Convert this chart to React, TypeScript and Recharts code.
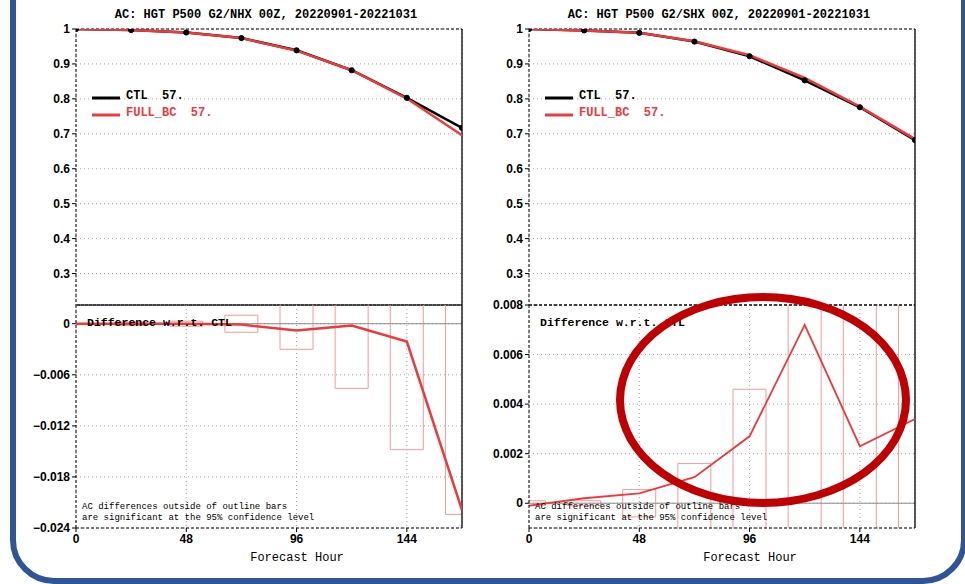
import {
  Bar,
  CartesianGrid,
  ComposedChart,
  Legend,
  Line,
  ReferenceLine,
  XAxis,
  YAxis,
} from "recharts";

// forecast hours and values
const HOURS = [0, 24, 48, 72, 96, 120, 144, 168];

const NHX_CTL = [1.0, 0.997, 0.99, 0.974, 0.939, 0.882, 0.803, 0.717];
const NHX_FULL = [1.0, 0.997, 0.99, 0.974, 0.938, 0.882, 0.801, 0.696];
const NHX_DIFF = [0, 0, 0, -0.0001, -0.0008, -0.0002, -0.0021, -0.0219];
const NHX_CI = [0, 0.0002, 0.0003, 0.001, 0.003, 0.0076, 0.0148, 0.0224];

const SHX_CTL = [1.0, 0.996, 0.989, 0.964, 0.922, 0.853, 0.776, 0.682];
const SHX_FULL = [1.0, 0.996, 0.989, 0.965, 0.925, 0.86, 0.778, 0.685];
const SHX_DIFF = [-0.0001, 0.0002, 0.0004, 0.00105, 0.0027, 0.0072, 0.0023, 0.0034];
const SHX_CI = [0.0001, 0.0001, 0.00055, 0.0016, 0.0046, 0.011, 0.011, 0.012];

const AC_TICKS = [0.3, 0.4, 0.5, 0.6, 0.7, 0.8, 0.9, 1];
const NHX_DIFF_TICKS = [-0.024, -0.018, -0.012, -0.006, 0];
const SHX_DIFF_TICKS = [0, 0.002, 0.004, 0.006, 0.008];
const HOUR_TICKS = [0, 48, 96, 144];

const RED = "#ee3a3a";
const BAR_RED = "#f29a9a";
const GRID = "#a6a6a6";
const MONO = "'Liberation Mono', 'Courier New', monospace";
const SANS = "'Liberation Sans', Arial, sans-serif";

const tickStyle = { fontSize: 12, fontWeight: 700, fill: "#000", fontFamily: SANS };
const dashedAxis = { stroke: "#000", strokeDasharray: "3 2" };

const fmtAc = (v: number) => (v === 1 ? "1" : v.toFixed(1));
const fmtDiff = (v: number) =>
  v === 0 ? "0" : (v < 0 ? "\u2212" : "") + Math.abs(v).toFixed(3);

const renderLegend = (props: any) => (
  <div style={{ fontFamily: MONO, fontWeight: 700, fontSize: 12, lineHeight: "17px" }}>
    {(props.payload || []).map((p: any) => (
      <div key={p.value} style={{ display: "flex", alignItems: "center", color: p.color }}>
        <svg width={28} height={17}>
          <line x1={0} x2={28} y1={10} y2={10} stroke={p.color} strokeWidth={3} />
        </svg>
        <span style={{ marginLeft: 6, whiteSpace: "pre" }}>{p.value}</span>
      </div>
    ))}
  </div>
);

type PanelProps = {
  x0: number;
  title: string;
  ctl: number[];
  full: number[];
  diff: number[];
  ci: number[];
  diffDomain: [number, number];
  diffTicks: number[];
  dashedSeparator: boolean;
  diffWidth: number;
};

function Panel(p: PanelProps) {
  const acData = HOURS.map((h, i) => ({ h, ctl: p.ctl[i], full: p.full[i] }));
  const diffData = HOURS.map((h, i) => ({ h, diff: p.diff[i], band: [-p.ci[i], p.ci[i]] }));
  const plotLeft = p.x0 + 76;
  const text = (left: number, top: number, s: string, extra: any) => (
    <div style={{ position: "absolute", left, top, whiteSpace: "pre", fontFamily: MONO, ...extra }}>{s}</div>
  );

  return (
    <>
      <div style={{ position: "absolute", left: p.x0, top: 0 }}>
        <ComposedChart width={470} height={306} data={acData} margin={{ top: 29, right: 8, bottom: 1, left: 0 }}>
          <CartesianGrid stroke={GRID} strokeDasharray="1 3" />
          <XAxis dataKey="h" type="number" domain={[0, 168]} ticks={HOUR_TICKS} allowDataOverflow height={0} tick={false} tickLine={false} axisLine={false} />
          <YAxis
            type="number"
            domain={[0.21, 1]}
            ticks={AC_TICKS}
            interval={0}
            allowDataOverflow
            width={76}
            tickFormatter={fmtAc}
            tick={tickStyle}
            tickSize={4}
            tickLine={{ stroke: "#000" }}
            axisLine={dashedAxis}
          />
          <ReferenceLine y={1} stroke="#000" strokeDasharray="3 2" />
          <ReferenceLine x={168} stroke="#000" strokeWidth={1.3} />
          <ReferenceLine
            y={0.21}
            stroke="#000"
            strokeWidth={p.dashedSeparator ? 1 : 1.6}
            strokeDasharray={p.dashedSeparator ? "3 2" : undefined}
          />
          <Line
            dataKey="ctl"
            name="CTL  57."
            stroke="#000"
            strokeWidth={2.5}
            dot={{ r: 2.6, fill: "#000", stroke: "#000", strokeWidth: 1 }}
            isAnimationActive={false}
          />
          <Line dataKey="full" name="FULL_BC  57." stroke={RED} strokeWidth={2.5} dot={false} isAnimationActive={false} />
          <Legend
            layout="vertical"
            align="center"
            verticalAlign="middle"
            content={renderLegend}
            wrapperStyle={{ left: 92, top: 88, width: "auto", height: "auto" }}
          />
        </ComposedChart>
      </div>

      <div style={{ position: "absolute", left: p.x0, top: 295 }}>
        <ComposedChart width={470} height={270} data={diffData} margin={{ top: 10, right: 8, bottom: 0, left: 0 }}>
          <CartesianGrid stroke={GRID} strokeDasharray="1 3" />
          <XAxis
            dataKey="h"
            type="number"
            domain={[0, 168]}
            ticks={HOUR_TICKS}
            interval={0}
            allowDataOverflow
            height={37}
            tick={tickStyle}
            tickSize={4}
            tickLine={{ stroke: "#000" }}
            axisLine={dashedAxis}
          />
          <YAxis
            type="number"
            domain={p.diffDomain}
            ticks={p.diffTicks}
            interval={0}
            allowDataOverflow
            width={76}
            tickFormatter={fmtDiff}
            tick={tickStyle}
            tickSize={4}
            tickLine={{ stroke: "#000" }}
            axisLine={dashedAxis}
          />
          <ReferenceLine y={0} stroke="#8c8c8c" />
          <ReferenceLine x={168} stroke="#000" strokeWidth={1.3} />
          {p.dashedSeparator && <ReferenceLine y={p.diffDomain[1]} stroke="#000" strokeDasharray="3 2" />}
          <Bar dataKey="band" barSize={33} fill="none" stroke={BAR_RED} strokeWidth={1} isAnimationActive={false} />
          <Line dataKey="diff" stroke={RED} strokeWidth={p.diffWidth} dot={false} isAnimationActive={false} />
        </ComposedChart>
      </div>

      <div
        style={{
          position: "absolute",
          left: plotLeft - 3 - 200,
          width: 386 + 400,
          top: 8,
          textAlign: "center",
          fontFamily: MONO,
          fontWeight: 700,
          fontSize: 12,
          pointerEvents: "none",
        }}
      >
        <div style={{ width: 386, margin: "0 auto" }}>{p.title}</div>
      </div>
      {text(plotLeft + 11, 316, "Difference w.r.t. CTL", { fontWeight: 700, fontSize: 11.5 })}
      {text(plotLeft + 6, 502, "AC differences outside of outline bars", { fontSize: 9 })}
      {text(plotLeft + 6, 513, "are significant at the 95% confidence level", { fontSize: 9 })}
      <div
        style={{
          position: "absolute",
          left: plotLeft + 221 - 60,
          width: 120,
          top: 551,
          textAlign: "center",
          fontFamily: MONO,
          fontSize: 12,
        }}
      >
        Forecast Hour
      </div>
    </>
  );
}

export default function App() {
  return (
    <div
      style={{
        position: "absolute",
        left: 0,
        top: 0,
        width: 965,
        height: 584,
        overflow: "hidden",
        background: "#fff",
      }}
    >
      {/* slide frame */}
      <div
        style={{
          position: "absolute",
          left: 10,
          top: -80,
          width: 957,
          height: 664,
          boxSizing: "border-box",
          border: "6px solid #2f5597",
          borderRadius: 44,
        }}
      />
      <Panel
        x0={0}
        title="AC: HGT P500 G2/NHX 00Z, 20220901-20221031"
        ctl={NHX_CTL}
        full={NHX_FULL}
        diff={NHX_DIFF}
        ci={NHX_CI}
        diffDomain={[-0.024, 0.0022]}
        diffTicks={NHX_DIFF_TICKS}
        dashedSeparator={false}
        diffWidth={2.5}
      />
      <Panel
        x0={453}
        title="AC: HGT P500 G2/SHX 00Z, 20220901-20221031"
        ctl={SHX_CTL}
        full={SHX_FULL}
        diff={SHX_DIFF}
        ci={SHX_CI}
        diffDomain={[-0.001, 0.008]}
        diffTicks={SHX_DIFF_TICKS}
        dashedSeparator={true}
        diffWidth={1.8}
      />
      {/* highlight ellipse */}
      <div
        style={{
          position: "absolute",
          left: 616,
          top: 293,
          width: 294,
          height: 214,
          boxSizing: "border-box",
          border: "8px solid #c00000",
          borderRadius: "50%",
        }}
      />
    </div>
  );
}
